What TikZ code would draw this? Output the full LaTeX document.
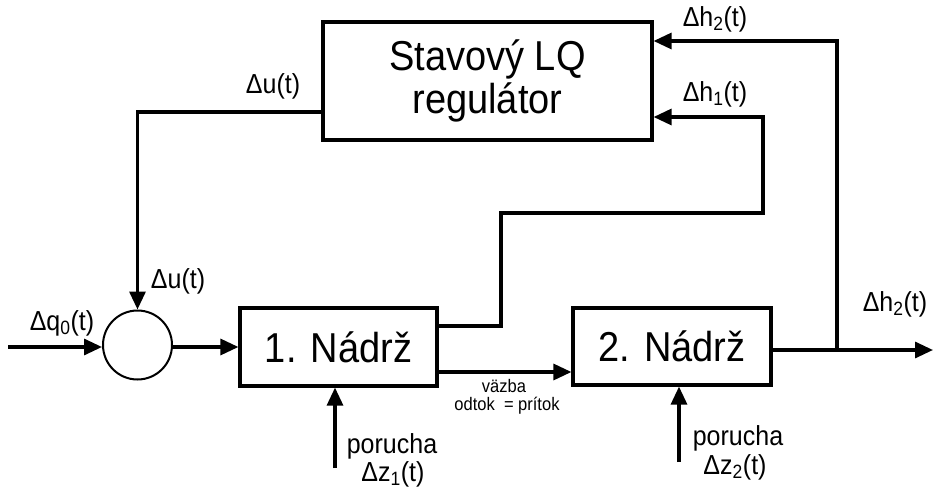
\documentclass[tikz,border=0pt]{standalone}
\usepackage{fontspec}
\usepackage{graphicx}
\setmainfont{Liberation Sans}
\usetikzlibrary{arrows.meta}
% slightly tall lettering
\newcommand\tallt[1]{\scalebox{1}[1.1]{#1}}
\begin{document}
\begin{tikzpicture}[x=1pt,y=-1pt,
  wire/.style={line width=3.2pt},
  arr/.style={wire,-{Triangle[length=18pt,width=16pt]}},
  block/.style={draw,line width=3.2pt,rectangle,inner sep=0pt,
    font={\fontsize{38}{37}\selectfont\lineskiplimit=-60pt}},
  junction/.style={draw,line width=2pt,circle,inner sep=0pt,minimum size=69pt},
  lbl/.style={font=\fontsize{25}{27}\selectfont,inner sep=0pt},
  small/.style={font=\fontsize{16.5}{18}\selectfont,inner sep=0pt}]
\useasboundingbox (0,0) rectangle (933,489);

% blocks
\node[block,minimum width=329pt,minimum height=118pt,align=center] (reg) at (487.5,81)
  {\tallt{Stavový LQ}\\[6pt]\tallt{regulátor}};
\node[block,minimum width=197pt,minimum height=78pt] (t1) at (338.5,347) {\tallt{1. Nádrž}};
\node[block,minimum width=198pt,minimum height=77pt] (t2) at (672,346.5) {\tallt{2. Nádrž}};
\node[junction] (sum) at (137.5,345) {};

% helper points of the routing
\coordinate (in) at (8,347);
\coordinate (uc) at (137.5,112);
\coordinate (h1a) at (501,326);
\coordinate (h1b) at (501,213);
\coordinate (h1c) at (763,213);
\coordinate (h1d) at (763,117);
\coordinate (br) at (837,350);
\coordinate (h2c) at (837,41);
\coordinate (out) at (933,350);
\coordinate (cp) at (0,372);
\coordinate (z1) at (335,468);
\coordinate (z2) at (679,462);

% signal lines
\draw[arr] (in) -- (in -| sum.west);
\draw[arr] (sum.east |- t1.west) -- (t1.west);
\draw[arr] (uc -| reg.west) -- (uc) -- (sum.north);
\draw[arr] (h1a -| t1.east) -- (h1a) -- (h1b) -- (h1c) -- (h1d) -- (h1d -| reg.east);
\draw[arr] (br -| t2.east) -- (out);
\draw[arr] (br) -- (h2c) -- (h2c -| reg.east);
\draw[arr] (cp -| t1.east) -- (cp -| t2.west);
\draw[arr] (z1) -- (z1 |- t1.south);
\draw[arr] (z2) -- (z2 |- t2.south);

% labels
\node[lbl] (lq) at (62,323) {\tallt{Δq\textsubscript{0}(t)}};
\node[lbl] (lu1) at (273,86) {\tallt{Δu(t)}};
\node[lbl] (lu2) at (178,281) {\tallt{Δu(t)}};
\node[lbl] (lh2) at (715,19) {\tallt{Δh\textsubscript{2}(t)}};
\node[lbl] (lh1) at (715,94) {\tallt{Δh\textsubscript{1}(t)}};
\node[lbl] (lh2o) at (895,304) {\tallt{Δh\textsubscript{2}(t)}};
\node[small] (lv1) at (504,386) {\tallt{väzba}};
\node[small] (lv2) at (507,406) {\tallt{odtok \ = prítok}};
\node[lbl] (lp1) at (392,446) {\tallt{porucha}};
\node[lbl] (lz1) at (393,474) {\tallt{Δz\textsubscript{1}(t)}};
\node[lbl] (lp2) at (738,438) {\tallt{porucha}};
\node[lbl] (lz2) at (735,467) {\tallt{Δz\textsubscript{2}(t)}};
\end{tikzpicture}
\end{document}
